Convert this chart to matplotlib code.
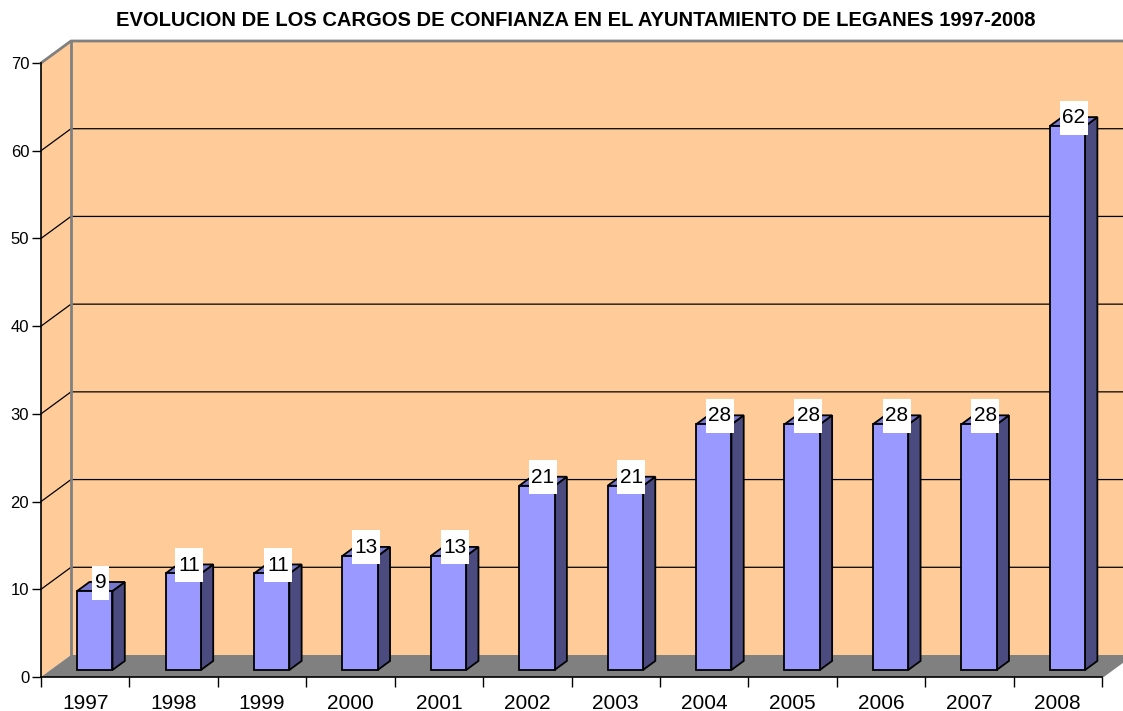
import matplotlib
matplotlib.use("Agg")
import matplotlib.pyplot as plt
from matplotlib.patches import Polygon, Rectangle

plt.rcParams['font.family'] = ['Liberation Sans', 'DejaVu Sans']

years = ['1997', '1998', '1999', '2000', '2001', '2002', '2003', '2004', '2005', '2006', '2007', '2008']
values = [9, 11, 11, 13, 13, 21, 21, 28, 28, 28, 28, 62]
title = 'EVOLUCION DE LOS CARGOS DE CONFIANZA EN EL AYUNTAMIENTO DE LEGANES 1997-2008'
yticks = [0, 10, 20, 30, 40, 50, 60, 70]

W, H = 1123, 711
fig = plt.figure(figsize=(W / 100, H / 100), dpi=100)
fig.patch.set_facecolor('white')
ax = fig.add_axes([41 / W, (H - 677) / H, (1102 - 41) / W, (677 - 63) / H])
n = len(years)
ymax = 70
ax.set_xlim(0, n)
ax.set_ylim(0, ymax)
ax.set_facecolor('none')

# 3D depth offsets in data units
DX = 30 / ((1102 - 41) / n)
DY = 22 / ((677 - 63) / ymax)

peach = '#FFCC99'
wallgray = '#808080'

# left side wall
ax.add_patch(Polygon([(0, 0), (DX, DY), (DX, ymax + DY), (0, ymax)], closed=True,
                     facecolor=peach, edgecolor='none', zorder=1, clip_on=False))
# back wall
ax.add_patch(Polygon([(DX, DY), (n + DX + 1, DY), (n + DX + 1, ymax + DY), (DX, ymax + DY)],
                     closed=True, facecolor=peach, edgecolor='none', zorder=1, clip_on=False))
# floor
ax.add_patch(Polygon([(0, 0), (n, 0), (n + DX, DY), (DX, DY)], closed=True,
                     facecolor=wallgray, edgecolor='none', zorder=2, clip_on=False))

# gridlines
for v in yticks[1:-1]:
    ax.plot([0, DX, n + DX + 1], [v, v + DY, v + DY], color='black', lw=0.9, zorder=3, clip_on=False)
# wall borders (gray)
ax.plot([0, DX, n + DX + 1], [ymax, ymax + DY, ymax + DY], color=wallgray, lw=2, zorder=3, clip_on=False)
ax.plot([DX, DX], [DY, ymax + DY], color=wallgray, lw=2, zorder=3, clip_on=False)
ax.plot([n, n + DX], [0, DY], color=wallgray, lw=1.5, zorder=3, clip_on=False)

# bars
bw = 0.4
f1, f2 = 0.32, 0.73
front = '#9999FF'
top_c = '#7777CC'
side_c = '#4B4B80'
for i, v in enumerate(values):
    c = i + 0.5
    x0 = c - bw / 2 + f1 * DX
    x1 = c + bw / 2 + f1 * DX
    yb = f1 * DY
    yt = v + f1 * DY
    ddx = (f2 - f1) * DX
    ddy = (f2 - f1) * DY
    kw = dict(closed=True, edgecolor='black', lw=1.3, zorder=5, clip_on=False, joinstyle='miter')
    ax.add_patch(Polygon([(x1, yb), (x1 + ddx, yb + ddy), (x1 + ddx, yt + ddy), (x1, yt)], facecolor=side_c, **kw))
    ax.add_patch(Polygon([(x0, yt), (x1, yt), (x1 + ddx, yt + ddy), (x0 + ddx, yt + ddy)], facecolor=top_c, **kw))
    ax.add_patch(Polygon([(x0, yb), (x1, yb), (x1, yt), (x0, yt)], facecolor=front, **kw))
    # label
    lx = c + (f1 + f2) / 2 * DX
    ly = v + (f1 + f2) / 2 * DY + 0.45
    nd = len(str(v))
    lw_ = 0.067 + 0.125 * nd
    lh = 34 / ((677 - 63) / ymax)
    ax.add_patch(Rectangle((lx - lw_ / 2, ly - lh / 2), lw_, lh, facecolor='white', edgecolor='none',
                           zorder=6, clip_on=False))
    ax.text(lx, ly, str(v), ha='center', va='center', fontsize=15, color='black', zorder=7)

# axes
for s in ['top', 'right']:
    ax.spines[s].set_visible(False)
for s in ['left', 'bottom']:
    ax.spines[s].set_color('black')
    ax.spines[s].set_linewidth(1.2)
    ax.spines[s].set_zorder(8)
ax.set_yticks(yticks)
ax.set_yticklabels([str(t) for t in yticks], fontsize=12)
ax.tick_params(axis='y', direction='out', length=6.5, width=1, pad=2, color='black')
ax.set_xticks(range(n + 1))
ax.set_xticklabels([''] * (n + 1))
ax.set_xticks([i + 0.5 for i in range(n)], minor=True)
ax.set_xticklabels(years, minor=True, fontsize=15)
ax.tick_params(axis='x', which='major', direction='out', length=7.2, width=1, color='black')
ax.tick_params(axis='x', which='minor', length=0, pad=12)

fig.text(576 / W, 1 - 21 / H, title, ha='center', va='center', fontsize=14.5, fontweight='bold')

fig.savefig('out.png', dpi=100)
